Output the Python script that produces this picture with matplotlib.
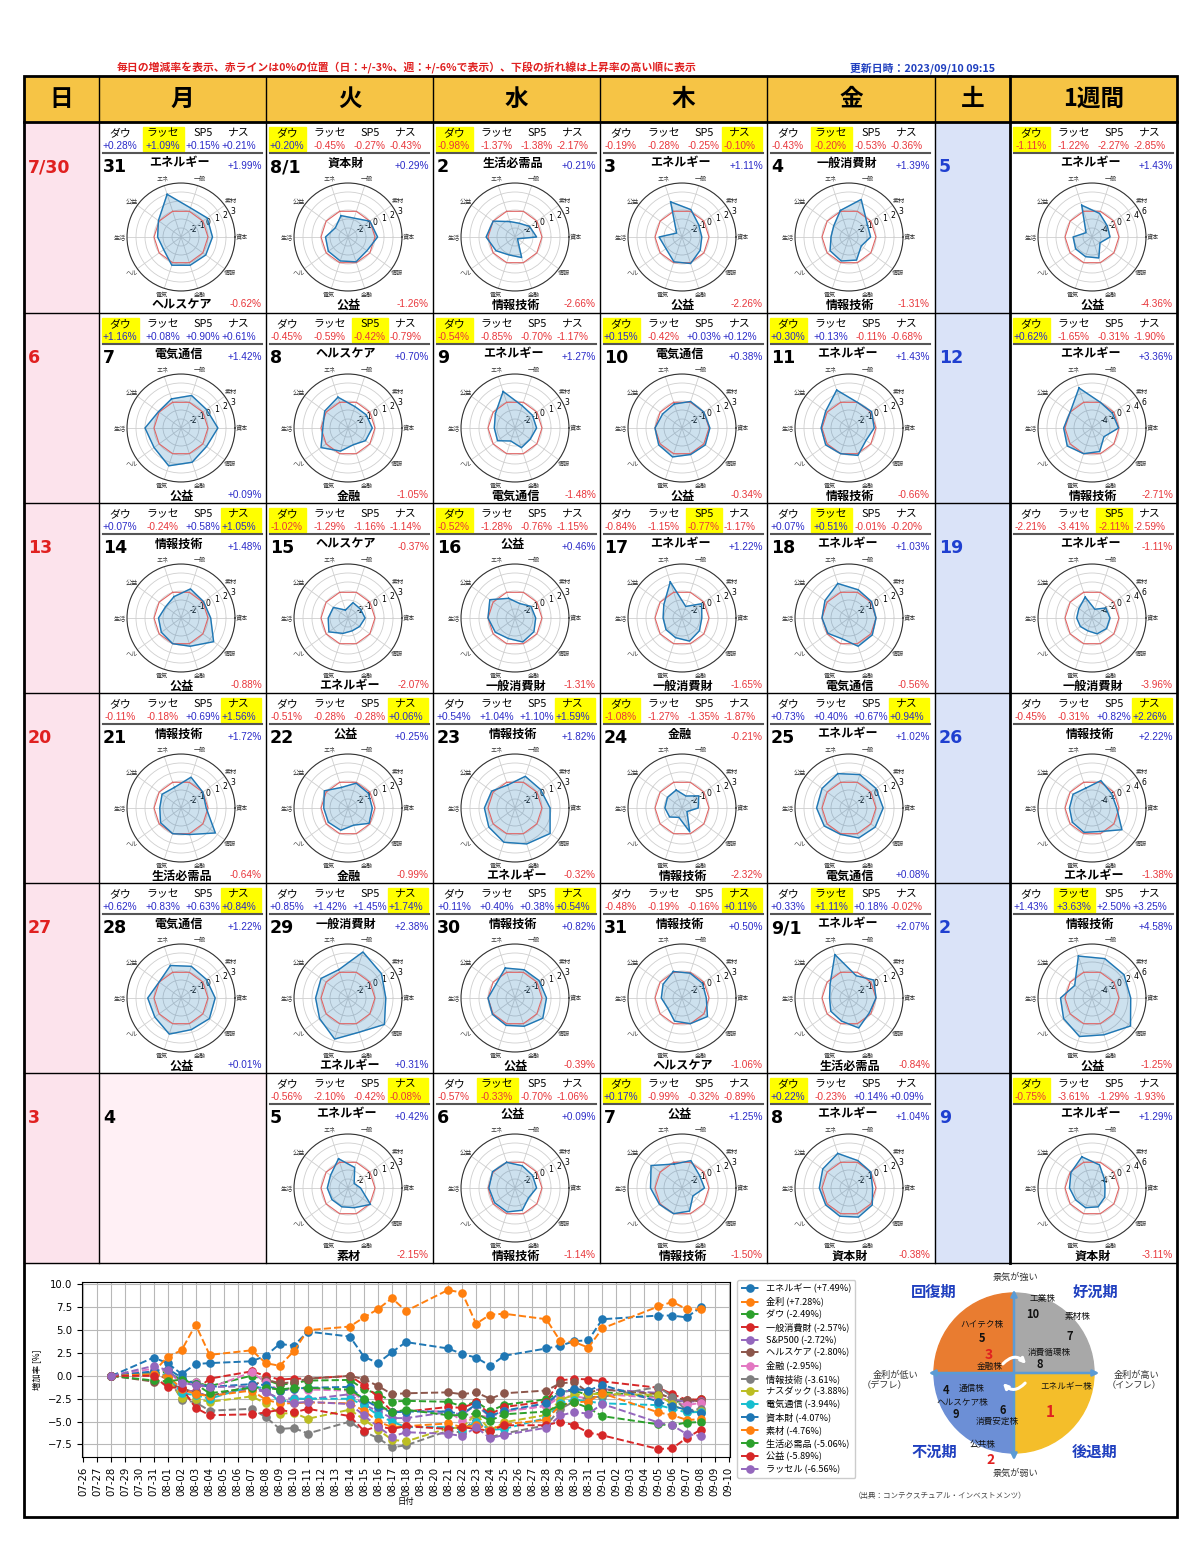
import numpy as np
import matplotlib
matplotlib.use('Agg')
import matplotlib.pyplot as plt
import matplotlib.dates as mdates
from matplotlib.patches import Rectangle, Wedge, FancyArrowPatch
import datetime as dt

plt.rcParams['font.family'] = ['Noto Sans CJK JP', 'DejaVu Sans']

W, H = 1200, 1541

# ---------------- data ----------------
idx_names = ['ダウ', 'ラッセ', 'SP5', 'ナス']
sector_short = ['エネ', '一般', '素材', '資本', '情報', '金融', '電気', 'ヘル', '生活', '公益']
sector_full = ['エネルギー', '一般消費財', '素材', '資本財', '情報技術', '金融', '電気通信',
               'ヘルスケア', '生活必需品', '公益']

day_labels = ['31', '8/1', '2', '3', '4', '7', '8', '9', '10', '11', '14', '15', '16', '17', '18',
              '21', '22', '23', '24', '25', '28', '29', '30', '31', '9/1', '5', '6', '7', '8']
# (row, col) of each trading day, col 1 = Monday
day_pos = [(0, 1), (0, 2), (0, 3), (0, 4), (0, 5),
           (1, 1), (1, 2), (1, 3), (1, 4), (1, 5),
           (2, 1), (2, 2), (2, 3), (2, 4), (2, 5),
           (3, 1), (3, 2), (3, 3), (3, 4), (3, 5),
           (4, 1), (4, 2), (4, 3), (4, 4), (4, 5),
           (5, 2), (5, 3), (5, 4), (5, 5)]

dow = [0.28, 0.20, -0.98, -0.19, -0.43, 1.16, -0.45, -0.54, 0.15, 0.30, 0.07, -1.02, -0.52, -0.84, 0.07,
       -0.11, -0.51, 0.54, -1.08, 0.73, 0.62, 0.85, 0.11, -0.48, 0.33, -0.56, -0.57, 0.17, 0.22]
rus = [1.09, -0.45, -1.37, -0.28, -0.20, 0.08, -0.59, -0.85, -0.42, 0.13, -0.24, -1.29, -1.28, -1.15, 0.51,
       -0.18, -0.28, 1.04, -1.27, 0.40, 0.83, 1.42, 0.40, -0.19, 1.11, -2.10, -0.33, -0.99, -0.23]
sp5 = [0.15, -0.27, -1.38, -0.25, -0.53, 0.90, -0.42, -0.70, 0.03, -0.11, 0.58, -1.16, -0.76, -0.77, -0.01,
       0.69, -0.28, 1.10, -1.35, 0.67, 0.63, 1.45, 0.38, -0.16, 0.18, -0.42, -0.70, -0.32, 0.14]
nas = [0.21, -0.43, -2.17, -0.10, -0.36, 0.61, -0.79, -1.17, 0.12, -0.68, 1.05, -1.14, -1.15, -1.17, -0.20,
       1.56, 0.06, 1.59, -1.87, 0.94, 0.84, 1.74, 0.54, 0.11, -0.02, -0.08, -1.06, -0.89, 0.09]

# sector returns, order: エネ 一般 素材 資本 情報 金融 電気 ヘル 生活 公益
radar_day = [
    [1.99, 0.4, 0.6, 0.5, 0.4, 0.3, 0.3, -0.62, -0.4, 0.1],
    [-0.5, -0.8, 0.0, 0.29, -0.4, -0.1, -0.2, -0.3, -0.5, -1.26],
    [-1.2, -1.4, -1.0, -0.6, -2.66, -0.6, -0.9, -0.4, 0.21, 0.0],
    [1.11, 0.2, -0.7, -0.8, -0.5, 0.1, -0.1, -0.8, -0.45, -2.26],
    [0.1, 1.39, -0.5, -0.6, -1.31, -0.3, -0.2, -0.4, -1.0, -0.9],
    [0.4, 0.8, 0.5, 1.1, 0.5, 1.0, 1.42, 0.7, 1.0, 0.09],
    [0.6, -0.5, -0.5, -0.3, -0.6, -1.05, -0.3, 0.70, -0.2, 0.2],
    [1.27, -0.4, -0.6, -0.6, -0.9, -0.7, -1.48, -0.6, -0.7, -0.3],
    [-0.2, 0.1, 0.0, 0.1, 0.2, 0.1, 0.38, 0.2, 0.0, -0.34],
    [1.43, 0.0, 0.1, -0.2, -0.66, 0.2, 0.0, 0.2, 0.1, 0.2],
    [-0.5, 0.4, 0.1, 0.3, 1.48, 0.3, 0.0, -0.3, -0.5, -0.88],
    [-2.07, -1.2, -1.3, -1.1, -1.4, -1.5, -1.2, -0.37, -0.8, -1.0],
    [-0.7, -1.31, -0.8, -0.7, -0.4, -0.2, -0.6, -0.3, 0.0, 0.46],
    [1.22, -1.65, -0.3, -0.8, -0.6, -0.3, -0.7, -0.8, -0.9, -0.5],
    [1.03, 0.3, 0.1, 0.0, 0.2, 0.3, -0.56, -0.1, 0.0, 0.3],
    [-0.6, 0.6, 0.0, -0.2, 1.72, 0.1, 0.0, -0.2, -0.64, -0.4],
    [-0.6, -0.1, -0.2, -0.3, -0.1, -0.99, -0.4, -0.3, -0.3, 0.25],
    [-0.32, 0.7, 0.5, 0.9, 1.82, 1.2, 1.0, 0.6, 0.4, 0.2],
    [-0.9, -1.6, -0.7, -1.2, -2.32, -0.21, -1.9, -1.3, -1.1, -1.0],
    [1.02, 0.9, 0.7, 0.8, 0.6, 0.5, 0.08, 0.4, 0.6, 0.7],
    [0.8, 0.7, 0.5, 0.8, 0.9, 0.7, 1.22, 0.6, 0.7, 0.01],
    [0.31, 2.38, 1.6, 1.2, 2.0, 1.0, 1.8, 0.9, 0.6, 0.7],
    [0.5, 0.3, 0.3, 0.5, 0.82, 0.3, 0.2, 0.1, 0.0, -0.39],
    [0.1, -0.1, -0.2, -0.3, 0.50, 0.0, -0.3, -1.06, -0.7, -0.4],
    [2.07, -0.4, 0.4, 0.0, -0.2, 0.5, -0.3, -0.5, -0.84, -0.4],
    [0.42, -0.6, -2.15, -1.6, 0.1, -0.7, -0.8, -0.8, -0.7, -0.6],
    [0.0, -0.4, -0.6, -0.6, -1.14, -0.4, -0.2, -0.2, -0.1, 0.09],
    [-0.2, 0.2, -0.6, -0.5, -1.50, -0.3, 0.0, 0.1, 0.5, 1.25],
    [1.04, 0.2, 0.0, -0.38, 0.2, 0.4, 0.3, 0.2, 0.3, 0.6],
]

wk_dow = [-1.11, 0.62, -2.21, -0.45, 1.43, -0.75]
wk_rus = [-1.22, -1.65, -3.41, -0.31, 3.63, -3.61]
wk_sp5 = [-2.27, -0.31, -2.11, 0.82, 2.50, -1.29]
wk_nas = [-2.85, -1.90, -2.59, 2.26, 3.25, -1.93]
radar_week = [
    [1.43, -0.5, -1.8, -2.0, -3.8, -1.1, -1.4, -1.5, -1.8, -4.36],
    [3.36, 0.0, -0.4, -0.1, -2.71, -0.5, 0.0, 0.8, 0.3, 0.0],
    [-1.11, -3.96, -2.2, -2.0, -2.0, -2.3, -3.0, -2.8, -2.6, -2.4],
    [-1.38, 0.4, -0.6, -0.5, 2.22, -0.5, -0.3, -0.6, -1.0, -0.8],
    [3.8, 3.2, 2.8, 2.6, 4.58, 2.6, 3.0, 1.8, 1.0, -1.25],
    [1.29, -0.6, -2.6, -3.11, -2.5, -1.6, -1.4, -1.5, -1.0, -0.2],
]

sun_labels = ['7/30', '6', '13', '20', '27', '3']
sat_labels = ['5', '12', '19', '26', '2', '9']
headers = ['日', '月', '火', '水', '木', '金', '土', '1週間']

# cumulative change for the line chart
dates = ['2023-07-28', '2023-07-31', '2023-08-01', '2023-08-02', '2023-08-03', '2023-08-04',
         '2023-08-07', '2023-08-08', '2023-08-09', '2023-08-10', '2023-08-11', '2023-08-14',
         '2023-08-15', '2023-08-16', '2023-08-17', '2023-08-18', '2023-08-21', '2023-08-22',
         '2023-08-23', '2023-08-24', '2023-08-25', '2023-08-28', '2023-08-29', '2023-08-30',
         '2023-08-31', '2023-09-01', '2023-09-05', '2023-09-06', '2023-09-07', '2023-09-08']
line_names = ['エネルギー', '金利', 'ダウ', '一般消費財', 'S&P500', 'ヘルスケア', '金融', '情報技術',
              'ナスダック', '電気通信', '資本財', '素材', '生活必需品', '公益', 'ラッセル']
s_energy = [0, 2.0, 1.4, 0.2, 1.3, 1.4, 1.6, 2.2, 3.5, 3.3, 4.85, 4.3, 2.1, 1.4, 2.6, 3.7, 3.0, 2.4, 2.0, 1.1,
            2.2, 3.0, 3.3, 3.8, 3.9, 6.2, 6.6, 6.6, 6.4, 7.49]
s_rate = [0, 0.4, 2.1, 2.8, 5.6, 2.3, 2.8, 1.4, 1.1, 2.7, 5.0, 5.4, 6.4, 7.3, 8.5, 7.1, 9.4, 9.1, 5.7, 6.7,
          6.8, 6.2, 3.8, 3.7, 3.1, 5.2, 7.6, 8.1, 7.3, 7.28]
s_dow = [0, 0.28, 0.48, -0.50, -0.69, -1.12, 0.03, -0.42, -0.96, -0.81, -0.51, -0.44, -1.46, -1.97, -2.80,
         -2.73, -2.83, -3.33, -2.81, -3.86, -3.16, -2.56, -1.73, -1.62, -2.09, -1.77, -2.32, -2.88, -2.71, -2.49]
s_cons = [0, 0.4, -0.4, -1.8, -1.6, -0.3, 0.5, 0.0, -0.4, -0.3, -0.3, 0.0, -1.0, -2.3, -3.9, -3.9, -3.4, -3.5,
          -2.9, -4.2, -3.4, -2.8, -0.5, -0.3, -0.4, -0.6, -1.3, -2.0, -2.6, -2.57]
s_sp5 = [0, 0.15, -0.12, -1.50, -1.74, -2.27, -1.39, -1.80, -2.49, -2.46, -2.56, -2.00, -3.14, -3.87, -4.61,
         -4.62, -3.96, -4.23, -3.18, -4.49, -3.85, -3.24, -1.84, -1.47, -1.62, -1.45, -1.86, -2.55, -2.86, -2.72]
s_health = [0, -0.62, -0.9, -1.3, -1.9, -2.2, -1.1, -0.4, -0.8, -0.7, -0.3, 0.0, -0.35, -1.1, -2.0, -1.9, -1.8,
            -2.0, -1.8, -2.5, -1.9, -1.6, -0.8, -0.7, -1.8, -1.5, -2.0, -2.4, -2.6, -2.80]
s_fin = [0, 0.8, 0.5, -0.8, -0.7, -1.3, 0.4, -0.7, -1.6, -1.4, -1.5, -1.6, -2.7, -3.4, -3.9, -3.8, -3.9, -4.9,
         -4.3, -4.5, -3.9, -3.3, -2.3, -2.2, -2.5, -2.0, -2.4, -2.8, -3.2, -2.95]
s_it = [0, 0.4, 0.0, -2.6, -2.9, -3.8, -3.6, -4.5, -5.8, -5.7, -6.3, -5.0, -6.1, -6.8, -7.8, -7.6, -6.0, -6.2,
        -4.5, -6.7, -6.3, -5.4, -3.6, -2.8, -2.3, -2.3, -1.2, -2.3, -3.8, -3.61]
s_nas = [0, 0.21, -0.22, -2.39, -2.48, -2.84, -2.24, -3.01, -4.15, -4.03, -4.69, -3.69, -4.78, -5.88, -6.98,
         -7.17, -5.72, -5.66, -4.16, -5.95, -5.07, -4.27, -2.61, -2.08, -1.97, -1.99, -2.07, -3.11, -3.97, -3.88]
s_tel = [0, 0.3, 0.1, -1.9, -2.1, -2.5, -1.1, -1.4, -2.9, -2.5, -2.5, -2.5, -3.2, -4.3, -5.0, -5.6, -5.6, -5.9,
         -5.0, -5.9, -5.8, -4.6, -3.0, -2.6, -2.8, -3.0, -3.2, -3.6, -4.0, -3.94]
s_ind = [0, 0.5, 0.8, -0.2, -0.9, -1.2, -0.9, -1.0, -1.6, -1.4, -1.3, -1.2, -2.6, -3.4, -4.0, -3.9, -3.9, -4.2,
         -3.1, -4.4, -3.8, -3.0, -1.8, -1.4, -1.6, -1.0, -2.8, -3.3, -3.7, -4.07]
s_mat = [0, 0.2, 0.0, -1.4, -2.0, -2.2, -1.6, -2.6, -3.0, -3.0, -2.9, -3.0, -3.8, -5.0, -5.6, -5.5, -5.2, -5.6,
         -5.4, -5.9, -5.3, -4.8, -3.2, -2.9, -2.8, -1.9, -4.0, -4.3, -4.8, -4.76]
s_stap = [0, -0.5, -0.6, -0.4, -0.9, -1.9, -1.3, -1.3, -1.5, -1.3, -1.3, -1.5, -2.5, -3.1, -4.0, -3.7, -4.3,
          -4.3, -4.1, -4.9, -4.2, -3.9, -3.2, -2.9, -3.5, -4.4, -5.3, -5.4, -5.1, -5.06]
s_util = [0, 0.0, -1.26, -1.3, -3.5, -4.3, -4.2, -4.0, -3.7, -4.0, -3.6, -4.4, -6.0, -5.5, -5.8, -5.5, -5.8,
          -5.6, -5.8, -6.0, -5.4, -5.4, -5.0, -5.4, -6.2, -6.5, -8.0, -7.9, -6.8, -5.89]
s_rus = [0, 1.09, 0.63, -0.74, -1.02, -1.22, -1.14, -1.72, -2.56, -2.97, -2.84, -3.08, -4.33, -5.55, -6.64,
         -6.16, -6.33, -6.59, -5.62, -6.82, -6.45, -5.67, -4.33, -3.95, -4.13, -3.07, -5.10, -5.42, -6.35, -6.56]
line_series = [s_energy, s_rate, s_dow, s_cons, s_sp5, s_health, s_fin, s_it, s_nas, s_tel,
               s_ind, s_mat, s_stap, s_util, s_rus]

# ---------------- layout ----------------
col_x = [24, 99, 266, 433, 600, 767, 935, 1010, 1177]
row_y = [122, 313, 503, 693, 883, 1073, 1263]
POS = '#2B2BC8'
NEG = '#E8363B'

fig = plt.figure(figsize=(12, 15.41), dpi=100)
bg = fig.add_axes([0, 0, 1, 1])
bg.set_xlim(0, W)
bg.set_ylim(H, 0)
bg.axis('off')

bg.text(407, 68, '毎日の増減率を表示、赤ラインは0%の位置（日：+/-3%、週：+/-6%で表示）、下段の折れ線は上昇率の高い順に表示',
        color='#E02020', fontsize=7.8, fontweight='bold', ha='center', va='center')
bg.text(923, 68, '更新日時：2023/09/10 09:15', color='#1F3FBF', fontsize=7.8,
        fontweight='bold', ha='center', va='center')

# backgrounds
bg.add_patch(Rectangle((24, 76), 1153, 46, color='#F6C445', zorder=0))
bg.add_patch(Rectangle((24, 122), 75, 1141, color='#FCE3EC', zorder=0))
bg.add_patch(Rectangle((935, 122), 75, 1141, color='#DAE3F8', zorder=0))
bg.add_patch(Rectangle((99, 1073), 167, 190, color='#FFF0F5', zorder=0))

for i, hname in enumerate(headers):
    bg.text((col_x[i] + col_x[i + 1]) / 2, 99, hname, fontsize=17, fontweight='bold',
            ha='center', va='center')

# grid lines
for x in col_x[1:-1]:
    bg.plot([x, x], [76, 1263], color='black', lw=2.0 if x == 1010 else 1.0, zorder=5)
for y in row_y[1:]:
    bg.plot([24, 1177], [y, y], color='black', lw=1.0, zorder=5)
bg.plot([24, 1177], [122, 122], color='black', lw=2.0, zorder=5)
bg.add_patch(Rectangle((24, 76), 1153, 1441, fill=False, ec='black', lw=2.0, zorder=6))

angles = np.deg2rad((108 - 36 * np.arange(10)) % 360)


def draw_radar(cx, cy, vals, lim):
    R = 54
    ax = fig.add_axes([(cx - R) / W, 1 - (cy + R) / H, 2 * R / W, 2 * R / H], projection='polar')
    a = np.append(angles, angles[0])
    v = np.append(vals, vals[0])
    ax.fill(a, v, color='#1f77b4', alpha=0.22, zorder=2)
    ax.plot(a, v, color='#1f77b4', lw=1.0, zorder=3)
    ax.plot(a, np.zeros_like(a), color='#E06565', lw=0.8, zorder=2)
    ax.set_thetamin(0)
    ax.set_thetamax(360)
    ax.set_ylim(-lim, lim)
    if lim == 3:
        ticks = [-2, -1, 0, 1, 2, 3]
    else:
        ticks = [-4, -2, 0, 2, 4, 6]
    ax.set_yticks(ticks)
    ax.set_yticklabels([str(t) for t in ticks], fontsize=5.6, family='DejaVu Sans')
    ax.set_rlabel_position(22.5)
    ax.set_xticks(angles)
    ax.set_xticklabels([])
    ax.grid(color='#cfcfcf', lw=0.6)
    ax.spines['polar'].set_linewidth(0.8)
    ax.spines['polar'].set_color('#333333')
    for ang, s in zip(angles, sector_short):
        ax.text(ang, lim * 1.26, s, fontsize=4.4, color='#333333', ha='center', va='center',
                clip_on=False)


def draw_cell(x0, y0, label, vals4, radar, lim):
    xs = [x0 + 21, x0 + 64, x0 + 104, x0 + 140]
    boxes = [(x0 + 3, x0 + 40), (x0 + 44, x0 + 85), (x0 + 86, x0 + 122), (x0 + 122, x0 + 162)]
    best = int(np.argmax(vals4))
    bx0, bx1 = boxes[best]
    bg.add_patch(Rectangle((bx0, y0 + 5), bx1 - bx0, 24, color='#FFFF00', zorder=1))
    for i in range(4):
        bg.text(xs[i], y0 + 11, idx_names[i], fontsize=7.8, ha='center', va='center', zorder=3)
        bg.text(xs[i], y0 + 24, f'{vals4[i]:+.2f}%', fontsize=7.3, family='Liberation Sans',
                color=POS if vals4[i] >= 0 else NEG, ha='center', va='center', zorder=3)
    bg.plot([x0 + 4, x0 + 163], [y0 + 31, y0 + 31], color='#555555', lw=1.5, zorder=3)
    if label:
        bg.text(x0 + 4, y0 + 45, label, fontsize=12.5, fontweight='bold', family='DejaVu Sans',
                ha='left', va='center')
    top = int(np.argmax(radar))
    bot = int(np.argmin(radar))
    bg.text(x0 + 80, y0 + 41, sector_full[top], fontsize=8.7, fontweight='bold', ha='center', va='center')
    bg.text(x0 + 163, y0 + 44, f'{radar[top]:+.2f}%', fontsize=7.2, family='Liberation Sans',
            color=POS if radar[top] >= 0 else NEG, ha='right', va='center')
    bg.text(x0 + 83, y0 + 183, sector_full[bot], fontsize=8.7, fontweight='bold', ha='center', va='center')
    bg.text(x0 + 163, y0 + 182, f'{radar[bot]:+.2f}%', fontsize=7.2, family='Liberation Sans',
            color=POS if radar[bot] >= 0 else NEG, ha='right', va='center')
    draw_radar(x0 + 82, y0 + 115, radar, lim)


for k, (r, c) in enumerate(day_pos):
    draw_cell(col_x[c], row_y[r], day_labels[k], [dow[k], rus[k], sp5[k], nas[k]], radar_day[k], 3)
for w in range(6):
    draw_cell(1010, row_y[w], '', [wk_dow[w], wk_rus[w], wk_sp5[w], wk_nas[w]], radar_week[w], 6)
    bg.text(28, row_y[w] + 45, sun_labels[w], color='#E02020', fontsize=12.5, fontweight='bold',
            family='DejaVu Sans', ha='left', va='center')
    bg.text(939, row_y[w] + 45, sat_labels[w], color='#1F3FD0', fontsize=12.5, fontweight='bold',
            family='DejaVu Sans', ha='left', va='center')
bg.text(103, 1073 + 45, '4', fontsize=12.5, fontweight='bold', family='DejaVu Sans', ha='left', va='center')

# ---------------- line chart ----------------
lx = fig.add_axes([82 / W, 1 - 1457 / H, (730 - 82) / W, (1457 - 1282) / H])
xd = [dt.datetime.strptime(d, '%Y-%m-%d') for d in dates]
for name, s in zip(line_names, line_series):
    lx.plot(xd, s, '--o', lw=1.4, markersize=5.2, label=f'{name} ({s[-1]:+.2f}%)')
lx.xaxis.set_major_locator(mdates.DayLocator())
lx.xaxis.set_major_formatter(mdates.DateFormatter('%m-%d'))
lx.tick_params(axis='x', labelrotation=90, labelsize=7.3)
lx.tick_params(axis='y', labelsize=7.3)
for t in lx.get_xticklabels() + lx.get_yticklabels():
    t.set_family('DejaVu Sans')
lx.grid(True, color='#b8b8b8', lw=0.8)
lx.set_ylabel('増加率 [%]', fontsize=6)
lx.set_xlabel('日付', fontsize=6, labelpad=1)
lx.legend(loc='upper left', bbox_to_anchor=(1.008, 1.02), fontsize=6.6, labelspacing=0.36,
          handlelength=2.0, borderpad=0.4, framealpha=1, borderaxespad=0.2)

# ---------------- business cycle diagram ----------------
cx, cy, rr = 1014, 1373, 80
for t1, t2, col in [(180, 270, '#E97C30'), (270, 360, '#A8A8A8'), (0, 90, '#F4BE2A'), (90, 180, '#6C8FD6')]:
    bg.add_patch(Wedge((cx, cy), rr, t1, t2, color=col, zorder=2))
bg.add_patch(FancyArrowPatch((926, cy), (1102, cy), arrowstyle='<|-|>', mutation_scale=9,
                             color='#5B9BD5', lw=1.8, zorder=3))
bg.add_patch(FancyArrowPatch((cx, 1287), (cx, 1463), arrowstyle='<|-|>', mutation_scale=9,
                             color='#5B9BD5', lw=1.8, zorder=3))
bg.add_patch(FancyArrowPatch((1001, 1366), (1028, 1366), arrowstyle='-|>', mutation_scale=7,
                             connectionstyle='arc3,rad=-0.6', color='white', lw=2.2, zorder=4))
bg.add_patch(FancyArrowPatch((1027, 1381), (1001, 1381), arrowstyle='-|>', mutation_scale=7,
                             connectionstyle='arc3,rad=-0.6', color='white', lw=2.2, zorder=4))

for txt, x, y in [('景気が強い', 1015, 1277), ('景気が弱い', 1015, 1473),
                  ('金利が低い', 895, 1375), ('（デフレ）', 884, 1386),
                  ('金利が高い', 1136, 1375), ('（インフレ）', 1134, 1386)]:
    bg.text(x, y, txt, fontsize=6.6, color='#333333', ha='center', va='center')
for txt, x, y in [('回復期', 934, 1292), ('好況期', 1095, 1292), ('不況期', 934, 1452), ('後退期', 1095, 1452)]:
    bg.text(x, y, txt, fontsize=11, fontweight='bold', color='#1F3FBF', ha='center', va='center')
for txt, x, y, fs, col, fw in [
        ('工業株', 1043, 1298, 6.2, '#111111', 'normal'), ('10', 1033, 1314, 8, '#111111', 'bold'),
        ('素材株', 1078, 1317, 6.2, '#111111', 'normal'), ('7', 1070, 1337, 8, '#111111', 'bold'),
        ('ハイテク株', 982, 1325, 6.2, '#111111', 'normal'), ('5', 982, 1338, 8, '#111111', 'bold'),
        ('3', 989, 1355, 10, '#E02020', 'bold'), ('金融株', 990, 1366, 6.2, '#111111', 'normal'),
        ('消費循環株', 1049, 1352, 6.2, '#111111', 'normal'), ('8', 1040, 1365, 8, '#111111', 'bold'),
        ('エネルギー株', 1066, 1386, 6.2, '#111111', 'normal'), ('1', 1050, 1412, 11, '#E02020', 'bold'),
        ('4', 946, 1391, 8, '#111111', 'bold'), ('通信株', 972, 1388, 6.2, '#111111', 'normal'),
        ('ヘルスケア株', 962, 1403, 6.2, '#111111', 'normal'), ('9', 956, 1414, 8, '#111111', 'bold'),
        ('6', 1003, 1410, 8, '#111111', 'bold'), ('消費安定株', 997, 1421, 6.2, '#111111', 'normal'),
        ('公共株', 983, 1445, 6.2, '#111111', 'normal'), ('2', 991, 1460, 10, '#E02020', 'bold')]:
    bg.text(x, y, txt, fontsize=fs, color=col, fontweight=fw, ha='center', va='center', zorder=5)
bg.text(940, 1496, '（出典：コンテクスチュアル・インベストメンツ）', fontsize=5.4, color='#444444',
        ha='center', va='center')

fig.savefig('out.png', dpi=100)
